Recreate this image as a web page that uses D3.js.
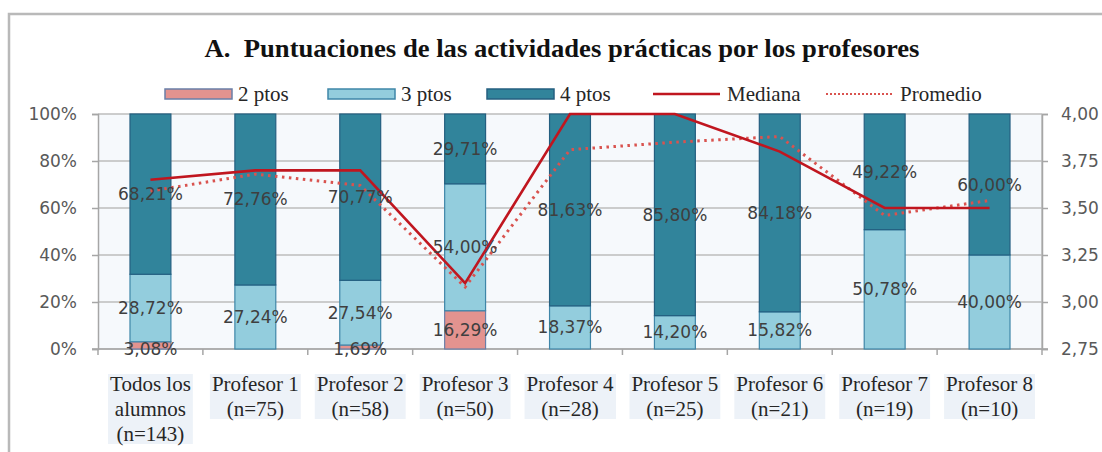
<!DOCTYPE html>
<html>
<head>
<meta charset="utf-8">
<script src="https://cdn.jsdelivr.net/npm/d3@7"></script>
<style>
  body { margin: 0; background: #fff; }
  svg { display: block; }
</style>
</head>
<body>
<div id="chart"></div>
<script>
// categories and values
var catLines = [["Todos los", "alumnos", "(n=143)"], ["Profesor 1", "(n=75)"], ["Profesor 2", "(n=58)"],
                ["Profesor 3", "(n=50)"], ["Profesor 4", "(n=28)"], ["Profesor 5", "(n=25)"],
                ["Profesor 6", "(n=21)"], ["Profesor 7", "(n=19)"], ["Profesor 8", "(n=10)"]]
var pts2 = [3.08, 0, 1.69, 16.29, 0, 0, 0, 0, 0]
var pts3 = [28.72, 27.24, 27.54, 54.00, 18.37, 14.20, 15.82, 50.78, 40.00]
var pts4 = [68.21, 72.76, 70.77, 29.71, 81.63, 85.80, 84.18, 49.22, 60.00]
var mediana = [3.65, 3.70, 3.70, 3.10, 4.00, 4.00, 3.80, 3.50, 3.50]
var promedio = [3.59, 3.68, 3.62, 3.08, 3.81, 3.85, 3.88, 3.46, 3.54]
var leftTicks = [0, 20, 40, 60, 80, 100]
var rightTicks = [2.75, 3.00, 3.25, 3.50, 3.75, 4.00]
var seriesNames = ["2 ptos", "3 ptos", "4 ptos"]

var width = 1102, height = 452
var plot = {left: 98, right: 1042, top: 114, bottom: 349}
var fills = ["#e3938f", "#93cddd", "#31849b"]
var strokes = ["#6a7fa8", "#3f86a8", "#245f80"]
var sans = "DejaVu Sans, Verdana, sans-serif"
var serif = "Liberation Serif, Times New Roman, serif"

var svg = d3.select('#chart').append('svg')
  .attr('width', width).attr('height', height)

// outer frame
svg.append('rect')
  .attr('x', 9).attr('y', 14).attr('width', 1120).attr('height', 460)
  .attr('fill', '#fff').attr('stroke', '#b9b9b9').attr('stroke-width', 2.5)

svg.append('text')
  .attr('x', 562).attr('y', 57)
  .attr('text-anchor', 'middle')
  .style('font-family', serif).style('font-weight', 'bold').style('font-size', '25px')
  .attr('fill', '#111')
  .attr('textLength', 715).attr('lengthAdjust', 'spacingAndGlyphs')
  .text('A.\u00a0 Puntuaciones de las actividades prácticas por los profesores')

var idx = d3.range(catLines.length)
var x = d3.scaleBand().domain(idx).range([plot.left, plot.right]).paddingInner(0.61).paddingOuter(0.305)
var xCat = d3.scaleBand().domain(idx).range([plot.left, plot.right])
var y = d3.scaleLinear().domain([0, 100]).range([plot.bottom, plot.top])
var yR = d3.scaleLinear().domain([2.75, 4]).range([plot.bottom, plot.top])

// plot background
svg.append('rect')
  .attr('x', plot.left).attr('y', plot.top)
  .attr('width', plot.right - plot.left).attr('height', plot.bottom - plot.top)
  .attr('fill', '#f6f9fc')

// grid
svg.append('g').selectAll('line').data(leftTicks).enter().append('line')
  .attr('x1', plot.left).attr('x2', plot.right)
  .attr('y1', d => y(d)).attr('y2', d => y(d))
  .attr('stroke', '#bdbdbd').attr('stroke-width', 1.5)
svg.append('line')
  .attr('x1', plot.right).attr('x2', plot.right).attr('y1', plot.top).attr('y2', plot.bottom)
  .attr('stroke', '#bdbdbd').attr('stroke-width', 1.5)

var fmt = d => d3.format('.2f')(d).replace('.', ',')

// left axis
var yAxis = d3.axisLeft(y).tickValues(leftTicks).tickFormat(d => d + '%').tickSize(6).tickPadding(15)
var gl = svg.append('g').attr('transform', 'translate(' + plot.left + ',0)').call(yAxis)
gl.select('.domain').attr('stroke', '#a6a6a6').attr('stroke-width', 1.5)
gl.selectAll('.tick line').attr('stroke', '#a6a6a6').attr('stroke-width', 1.5)
gl.selectAll('text').style('font-family', sans).style('font-size', '17px').attr('fill', '#595959')

// right axis
var yAxisR = d3.axisRight(yR).tickValues(rightTicks).tickFormat(fmt).tickSize(6).tickPadding(13)
var gr = svg.append('g').attr('transform', 'translate(' + plot.right + ',0)').call(yAxisR)
gr.select('.domain').attr('stroke', '#a6a6a6').attr('stroke-width', 1.5)
gr.selectAll('.tick line').attr('stroke', '#a6a6a6').attr('stroke-width', 1.5)
gr.selectAll('text').style('font-family', sans).style('font-size', '17px').attr('fill', '#595959')

// bottom axis with ticks between categories
var gb = svg.append('g').attr('transform', 'translate(0,' + plot.bottom + ')')
gb.append('line').attr('x1', plot.left - 6).attr('x2', plot.right + 6)
  .attr('stroke', '#a6a6a6').attr('stroke-width', 1.5)
gb.selectAll('.ct').data(d3.range(catLines.length + 1)).enter().append('line')
  .attr('class', 'ct')
  .attr('x1', d => d < catLines.length ? xCat(d) : plot.right)
  .attr('x2', d => d < catLines.length ? xCat(d) : plot.right)
  .attr('y1', 0).attr('y2', 6)
  .attr('stroke', '#a6a6a6').attr('stroke-width', 1.5)

// stacked bars
var rows = idx.map(i => ({i: i, v: [pts2[i], pts3[i], pts4[i]]}))
var stack = d3.stack().keys([0, 1, 2]).value((d, k) => d.v[k])
var layers = stack(rows)

layers.forEach(function(layer, k) {
  svg.append('g').selectAll('rect').data(layer).enter().append('rect')
    .attr('x', d => x(d.data.i))
    .attr('width', x.bandwidth())
    .attr('y', d => y(d[1]))
    .attr('height', d => y(d[0]) - y(d[1]))
    .attr('fill', fills[k])
    .attr('stroke', strokes[k]).attr('stroke-width', 1.2)
    .style('display', d => d[1] - d[0] > 0 ? null : 'none')
})

// lines
var cx = i => x(i) + x.bandwidth() / 2
var line = d3.line().x((d, i) => cx(i)).y(d => yR(d))
svg.append('path').datum(promedio)
  .attr('d', line).attr('fill', 'none')
  .attr('stroke', '#d9534f').attr('stroke-width', 3)
  .attr('stroke-dasharray', '2.5,4.5')
svg.append('path').datum(mediana)
  .attr('d', line).attr('fill', 'none')
  .attr('stroke', '#c0161f').attr('stroke-width', 2.6)

// data labels
layers.forEach(function(layer, k) {
  svg.append('g').selectAll('text').data(layer.filter(d => d[1] - d[0] > 0)).enter().append('text')
    .attr('x', d => cx(d.data.i))
    .attr('y', d => k == 0 && d[1] - d[0] < 5 ? plot.bottom + 6 : y((d[0] + d[1]) / 2) + 6)
    .attr('text-anchor', 'middle')
    .style('font-family', sans).style('font-size', '17px')
    .attr('fill', '#3f3f3f')
    .text(d => fmt(d[1] - d[0]) + '%')
})

// category labels
var cats = svg.append('g').selectAll('g').data(catLines).enter().append('g')
cats.each(function(lines, i) {
  var g = d3.select(this)
  var bg = g.append('rect').attr('fill', '#edf2f8')
  lines.forEach(function(t, j) {
    g.append('text')
      .attr('x', xCat(i) + xCat.bandwidth() / 2)
      .attr('y', 391 + j * 25)
      .attr('text-anchor', 'middle')
      .style('font-family', serif).style('font-size', '21px')
      .attr('fill', '#262626')
      .text(t)
  })
  var bb = g.node().getBBox()
  bg.attr('x', bb.x - 2).attr('y', bb.y + 2).attr('width', bb.width + 4).attr('height', bb.height - 4)
})

// legend
var legendX = [165, 328, 487, 653, 826]
var leg = svg.append('g')
seriesNames.forEach(function(name, k) {
  leg.append('rect')
    .attr('x', legendX[k]).attr('y', 89).attr('width', 67).attr('height', 10)
    .attr('fill', fills[k]).attr('stroke', strokes[k]).attr('stroke-width', 1.5)
  leg.append('text')
    .attr('x', legendX[k] + 73).attr('y', 101)
    .style('font-family', serif).style('font-size', '21px').attr('fill', '#262626')
    .text(name)
})
leg.append('line')
  .attr('x1', legendX[3]).attr('x2', legendX[3] + 67).attr('y1', 94).attr('y2', 94)
  .attr('stroke', '#c0161f').attr('stroke-width', 2.6)
leg.append('text')
  .attr('x', legendX[3] + 74).attr('y', 101)
  .style('font-family', serif).style('font-size', '21px').attr('fill', '#262626')
  .text('Mediana')
leg.append('line')
  .attr('x1', legendX[4]).attr('x2', legendX[4] + 67).attr('y1', 94).attr('y2', 94)
  .attr('stroke', '#d9534f').attr('stroke-width', 2)
  .attr('stroke-dasharray', '2,2')
leg.append('text')
  .attr('x', legendX[4] + 74).attr('y', 101)
  .style('font-family', serif).style('font-size', '21px').attr('fill', '#262626')
  .text('Promedio')
</script>
</body>
</html>
